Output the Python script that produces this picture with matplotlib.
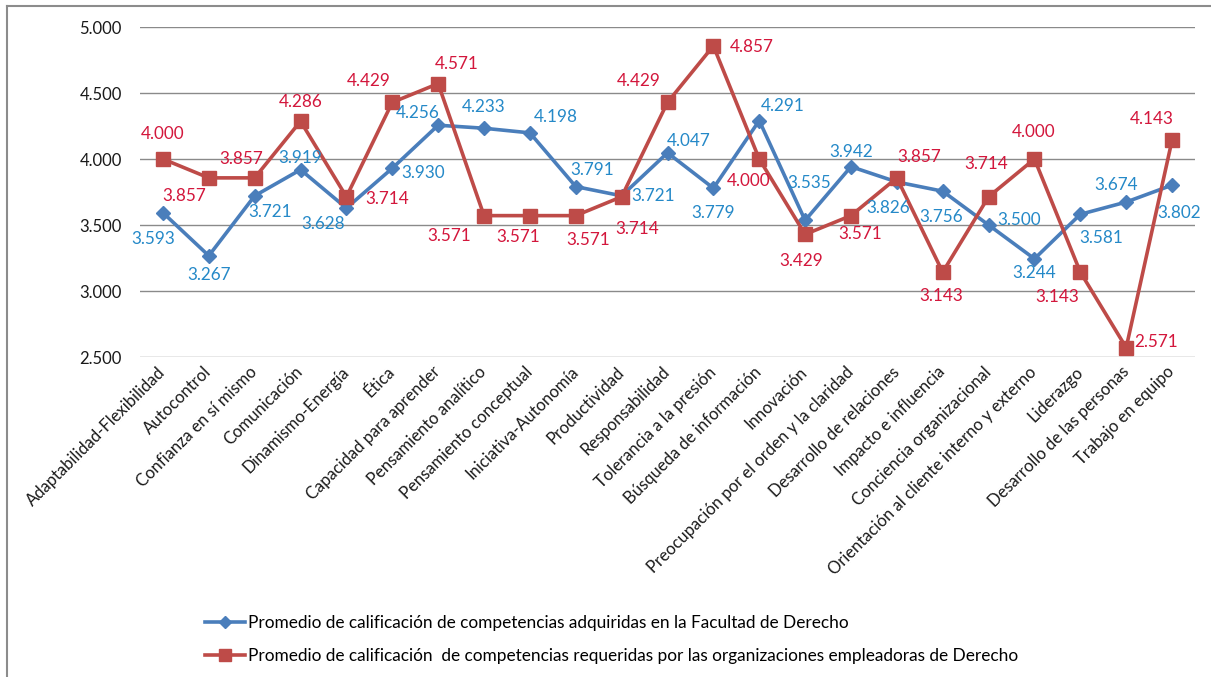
import numpy as np
import matplotlib
matplotlib.use("Agg")
import matplotlib.pyplot as plt
from matplotlib.lines import Line2D

plt.rcParams['font.family'] = ['Lato', 'DejaVu Sans']

# Competencias evaluadas
competencias = [
    "Adaptabilidad-Flexibilidad", "Autocontrol", "Confianza en sí mismo",
    "Comunicación", "Dinamismo-Energía", "Ética", "Capacidad para aprender",
    "Pensamiento analítico", "Pensamiento conceptual", "Iniciativa-Autonomía",
    "Productividad", "Responsabilidad", "Tolerancia a la presión",
    "Búsqueda de información", "Innovación",
    "Preocupación por el orden y la claridad", "Desarrollo de relaciones",
    "Impacto e influencia", "Conciencia organizacional",
    "Orientación al cliente interno y externo", "Liderazgo",
    "Desarrollo de las personas", "Trabajo en equipo",
]

# Promedios de calificación
adquiridas = [3.593, 3.267, 3.721, 3.919, 3.628, 3.930, 4.256, 4.233, 4.198,
              3.791, 3.721, 4.047, 3.779, 4.291, 3.535, 3.942, 3.826, 3.756,
              3.500, 3.244, 3.581, 3.674, 3.802]
requeridas = [4.000, 3.857, 3.857, 4.286, 3.714, 4.429, 4.571, 3.571, 3.571,
              3.571, 3.714, 4.429, 4.857, 4.000, 3.429, 3.571, 3.857, 3.143,
              3.714, 4.000, 3.143, 2.571, 4.143]

serie_azul = "Promedio de calificación de competencias adquiridas en la Facultad de Derecho"
serie_roja = "Promedio de calificación  de competencias requeridas por las organizaciones empleadoras de Derecho"

y_ticks = [2.5, 3.0, 3.5, 4.0, 4.5, 5.0]

# desplazamiento de cada etiqueta respecto a su punto (pixeles, x derecha, y abajo)
off_azul = [(-10, 26), (0, 19), (15, 16), (0, -12), (-23, 16), (31, 5),
            (-20, -12), (0, -21), (26, -16), (16, -17), (31, 0), (21, -12),
            (0, 25), (24, -15), (4, -37), (0, -15), (-9, 26), (-2, 26),
            (31, -5), (0, 14), (21, 24), (-10, -17), (7, 28)]
off_roja = [(0, -25), (-25, 18), (-13, -19), (0, -19), (41, 2), (-24, -21),
            (19, -20), (-35, 20), (-12, 21), (12, 24), (16, 32), (-29, -21),
            (38, 1), (-11, 22), (-4, 27), (9, 18), (22, -21), (-2, 24),
            (-2, -33), (-1, -27), (-23, 25), (30, -6), (-20, -21)]

azul_linea = "#4A7EBB"
azul_texto = "#2589C8"
rojo_linea = "#BE4B48"
rojo_texto = "#D3173C"

W, H = 1211, 677
fig = plt.figure(figsize=(W / 100, H / 100), dpi=100)
ax = fig.add_axes([140 / W, 1 - 357 / H, (1195 - 140) / W, (357 - 27) / H])

x = np.arange(len(competencias))
ax.plot(x, adquiridas, color=azul_linea, lw=2.6, marker="D", ms=7.5,
        mec=azul_linea, mfc=azul_linea, zorder=3)
ax.plot(x, requeridas, color=rojo_linea, lw=2.6, marker="s", ms=10,
        mec=rojo_linea, mfc=rojo_linea, zorder=4)

for i, v in enumerate(adquiridas):
    dx, dy = off_azul[i]
    ax.annotate(f"{v:.3f}", (i, v), xytext=(dx, -dy), textcoords="offset pixels",
                ha="center", va="center", fontsize=12.3, color=azul_texto, zorder=5)
for i, v in enumerate(requeridas):
    dx, dy = off_roja[i]
    ax.annotate(f"{v:.3f}", (i, v), xytext=(dx, -dy), textcoords="offset pixels",
                ha="center", va="center", fontsize=12.3, color=rojo_texto, zorder=5)

ax.set_xlim(-0.5, len(competencias) - 0.5)
ax.set_ylim(2.5, 5.0)
ax.set_yticks(y_ticks)
ax.set_yticklabels([f"{t:.3f}" for t in y_ticks], fontsize=12, color="#1a1a1a")
ax.yaxis.grid(True, color="#8a8a8a", lw=1)
ax.set_axisbelow(True)
for s in ax.spines.values():
    s.set_visible(False)
ax.tick_params(axis="y", length=0, pad=13)
ax.tick_params(axis="x", length=0, pad=9)
ax.set_xticks(x)
ax.set_xticklabels(competencias, rotation=45, ha="right", va="center",
                   rotation_mode="anchor", fontsize=12, color="#1a1a1a")

# leyenda
handles = [
    Line2D([], [], color=azul_linea, lw=2.6, marker="D", ms=6, label=serie_azul),
    Line2D([], [], color=rojo_linea, lw=2.6, marker="s", ms=9, label=serie_roja),
]
fig.legend(handles=handles, loc="upper left", bbox_to_anchor=(198 / W, 1 - 608 / H),
           frameon=False, fontsize=12.4, handlelength=2.3, handletextpad=0.2,
           labelspacing=1.0, borderaxespad=0)

# marco exterior del grafico
fig.add_artist(Line2D([7 / W, 7 / W], [0, 1 - 6 / H], color="#8c8c8c", lw=1.5))
fig.add_artist(Line2D([7 / W, 1], [1 - 6 / H, 1 - 6 / H], color="#8c8c8c", lw=1.5))

fig.savefig("out.png", dpi=100)
